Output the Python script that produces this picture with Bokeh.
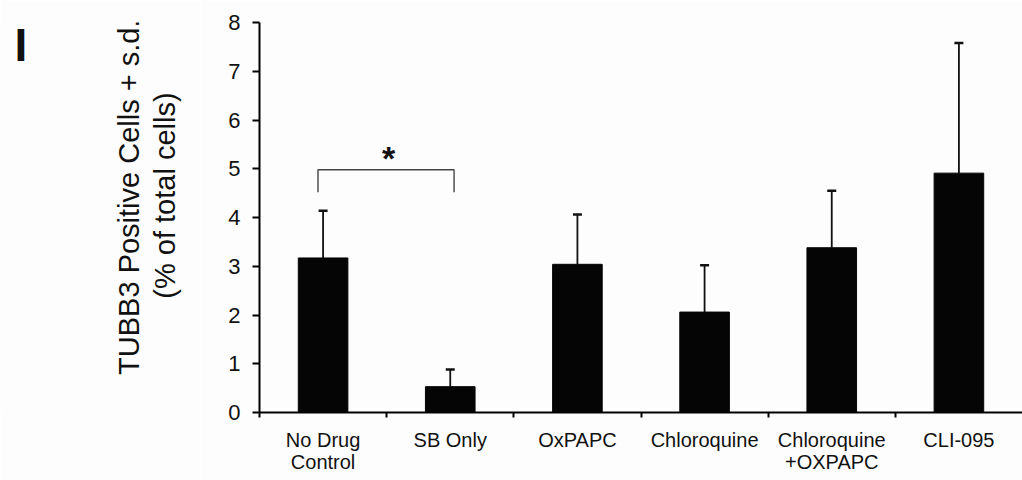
import numpy as np
from bokeh.plotting import figure
from bokeh.layouts import row
from bokeh.models import (ColumnDataSource, FixedTicker, Range1d, Whisker, TeeHead,
                          Label)
from bokeh.core.properties import value
from bokeh.embed import file_html
from bokeh.resources import INLINE

# ---- data ----
categories = ["No Drug\nControl", "SB Only", "OxPAPC", "Chloroquine",
              "Chloroquine\n+OXPAPC", "CLI-095"]
means = [3.17, 0.53, 3.04, 2.06, 3.38, 4.91]
sds = [0.97, 0.35, 1.02, 0.96, 1.17, 2.67]
y_ticks = [0, 1, 2, 3, 4, 5, 6, 7, 8]
y_title = ["TUBB3 Positive Cells + s.d.", "(% of total cells)"]
panel_letter = "I"
sig_pair = [0, 1]          # categories joined by the significance bracket
sig_label = "*"

FONT = "Liberation Sans"
INK = "#111111"
BG = "#fdfdfd"
LEFT_W = 200

n = len(categories)
centers = [i + 0.5 for i in range(n)]
upper = [m + s for m, s in zip(means, sds)]

src = ColumnDataSource(dict(x=centers, top=means, upper=upper))

# ---- left strip: panel letter and y-axis title (pixel-like coordinates) ----
side = figure(width=LEFT_W, height=480, output_backend="svg", toolbar_location=None,
              x_range=Range1d(0, LEFT_W), y_range=Range1d(0, 480),
              x_axis_type=None, y_axis_type=None,
              min_border_left=0, min_border_right=0, min_border_top=0,
              min_border_bottom=0)
side.grid.visible = False
side.outline_line_color = None
side.background_fill_color = BG
side.border_fill_color = BG
side.text(x=[128.5, 164.0], y=[265.0, 267.0], text=y_title,
          angle=np.pi / 2,
          text_font=value(FONT), text_font_size="29px", text_color=INK,
          text_align="center", text_baseline="middle")
side.text(x=[20.3], y=[452.6], text=[panel_letter], text_font=value(FONT),
          text_font_size="46px", text_font_style="bold", text_color=INK,
          text_align="center", text_baseline="alphabetic")

# ---- main chart ----
p = figure(width=1022 - LEFT_W, height=480, output_backend="svg",
           toolbar_location=None,
           x_range=Range1d(0, n), y_range=Range1d(0, 8),
           min_border_left=259 - LEFT_W, min_border_right=0, min_border_top=22,
           min_border_bottom=68)
p.outline_line_color = None
p.grid.visible = False
p.background_fill_color = BG
p.border_fill_color = BG

p.vbar(x="x", top="top", bottom=0, width=0.39, source=src,
       fill_color="#050505", line_color="#050505")

wh = Whisker(base="x", lower="top", upper="upper", source=src,
             line_color=INK, line_width=1.8,
             upper_head=TeeHead(size=9, line_color=INK, line_width=2.5),
             lower_head=None)
p.add_layout(wh)

# significance bracket
bx0 = centers[sig_pair[0]] - 0.04
bx1 = centers[sig_pair[1]] + 0.03
by = 4.98
bleg = 4.52
p.line([bx0, bx0, bx1, bx1], [bleg, by, by, bleg], line_color="#444444",
       line_width=1.4)
p.add_layout(Label(x=(bx0 + bx1) / 2 + 0.02, y=by - 0.15, text=sig_label,
                   text_font=FONT, text_font_size="34px", text_font_style="bold",
                   text_align="center", text_baseline="bottom", text_color=INK))

# x axis: boundary ticks as minor ticks, centered labels as major ticks
xa = p.xaxis[0]
xa.ticker = FixedTicker(ticks=centers, minor_ticks=list(range(n)))
xa.major_label_overrides = {c: lab for c, lab in zip(centers, categories)}
xa.major_tick_line_color = None
xa.major_tick_out = 0
xa.major_tick_in = 0
xa.minor_tick_line_color = "black"
xa.minor_tick_line_width = 2
xa.minor_tick_out = 5
xa.minor_tick_in = 0
xa.axis_line_width = 2
xa.axis_line_color = "black"
xa.major_label_text_font = FONT
xa.major_label_text_font_size = "20px"
xa.major_label_text_color = INK
xa.major_label_text_line_height = 1.0
xa.major_label_standoff = 11

ya = p.yaxis[0]
ya.ticker = FixedTicker(ticks=y_ticks, minor_ticks=[])
ya.axis_line_width = 2
ya.axis_line_color = "black"
ya.major_tick_line_width = 2
ya.major_tick_out = 7
ya.major_tick_in = 0
ya.major_label_text_font = FONT
ya.major_label_text_font_size = "22px"
ya.major_label_text_color = INK
ya.major_label_standoff = 12

layout = row(side, p, spacing=0)
open("out.html", "w").write(file_html(layout, INLINE))
